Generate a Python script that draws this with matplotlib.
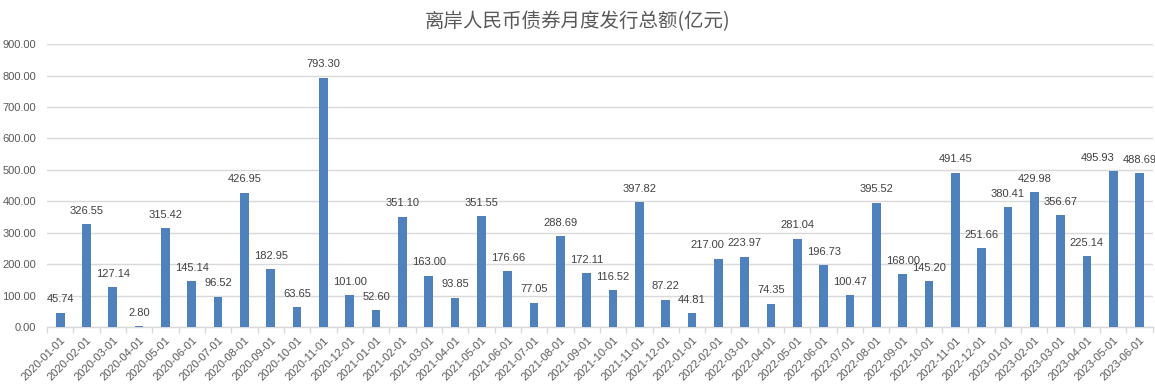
import matplotlib
matplotlib.use("Agg")
import matplotlib.pyplot as plt
import numpy as np

months = ["2020-01-01","2020-02-01","2020-03-01","2020-04-01","2020-05-01","2020-06-01",
          "2020-07-01","2020-08-01","2020-09-01","2020-10-01","2020-11-01","2020-12-01",
          "2021-01-01","2021-02-01","2021-03-01","2021-04-01","2021-05-01","2021-06-01",
          "2021-07-01","2021-08-01","2021-09-01","2021-10-01","2021-11-01","2021-12-01",
          "2022-01-01","2022-02-01","2022-03-01","2022-04-01","2022-05-01","2022-06-01",
          "2022-07-01","2022-08-01","2022-09-01","2022-10-01","2022-11-01","2022-12-01",
          "2023-01-01","2023-02-01","2023-03-01","2023-04-01","2023-05-01","2023-06-01"]
values = [45.74, 326.55, 127.14, 2.80, 315.42, 145.14,
          96.52, 426.95, 182.95, 63.65, 793.30, 101.00,
          52.60, 351.10, 163.00, 93.85, 351.55, 176.66,
          77.05, 288.69, 172.11, 116.52, 397.82, 87.22,
          44.81, 217.00, 223.97, 74.35, 281.04, 196.73,
          100.47, 395.52, 168.00, 145.20, 491.45, 251.66,
          380.41, 429.98, 356.67, 225.14, 495.93, 488.69]
yticks = [0, 100, 200, 300, 400, 500, 600, 700, 800, 900]
title = "离岸人民币债券月度发行总额(亿元)"

plt.rcParams['font.family'] = ['Liberation Sans', 'DejaVu Sans']
fig = plt.figure(figsize=(11.55, 3.9), dpi=100)
ax = fig.add_axes([0.0407, 0.1615, 0.9573, 0.7255])

x = np.arange(len(values))
bars = ax.bar(x, values, width=0.33, color="#4F81BD", zorder=3)
# small horizontal nudges (points) for labels that would collide, as in the original
nudge = {25: -8, 40: -11}
for xi, v in zip(x, values):
    ax.annotate(f"{v:.2f}", (xi, v), xytext=(nudge.get(int(xi), 0), 6),
                textcoords="offset points",
                ha="center", va="bottom", fontsize=8, color="#404040")

ax.set_xlim(-0.5, len(values) - 0.5)
ax.set_ylim(0, 900)
ax.set_yticks(yticks)
ax.set_yticklabels([f"{t:.2f}" for t in yticks], fontsize=8, color="#595959")
ax.yaxis.grid(True, color="#D9D9D9", linewidth=1, zorder=0)
ax.tick_params(axis="y", length=0, pad=8)

ax.set_xticks(x)
ax.set_xticklabels(months, rotation=45, ha="right", rotation_mode="anchor",
                   fontsize=8, color="#595959")
ax.set_xticks(np.arange(-0.5, len(values)), minor=True)
ax.tick_params(axis="x", which="major", length=0, pad=6)
ax.tick_params(axis="x", which="minor", length=4, color="#D9D9D9", width=1)

for s in ["top", "right", "left"]:
    ax.spines[s].set_visible(False)
ax.spines["bottom"].set_color("#D9D9D9")
ax.spines["bottom"].set_linewidth(1)

fig.text(0.5, 0.945, title, ha="center", va="center", fontsize=14, color="#595959",
         family=["Noto Sans CJK SC", "DejaVu Sans"])

fig.savefig("out.png", dpi=100)
